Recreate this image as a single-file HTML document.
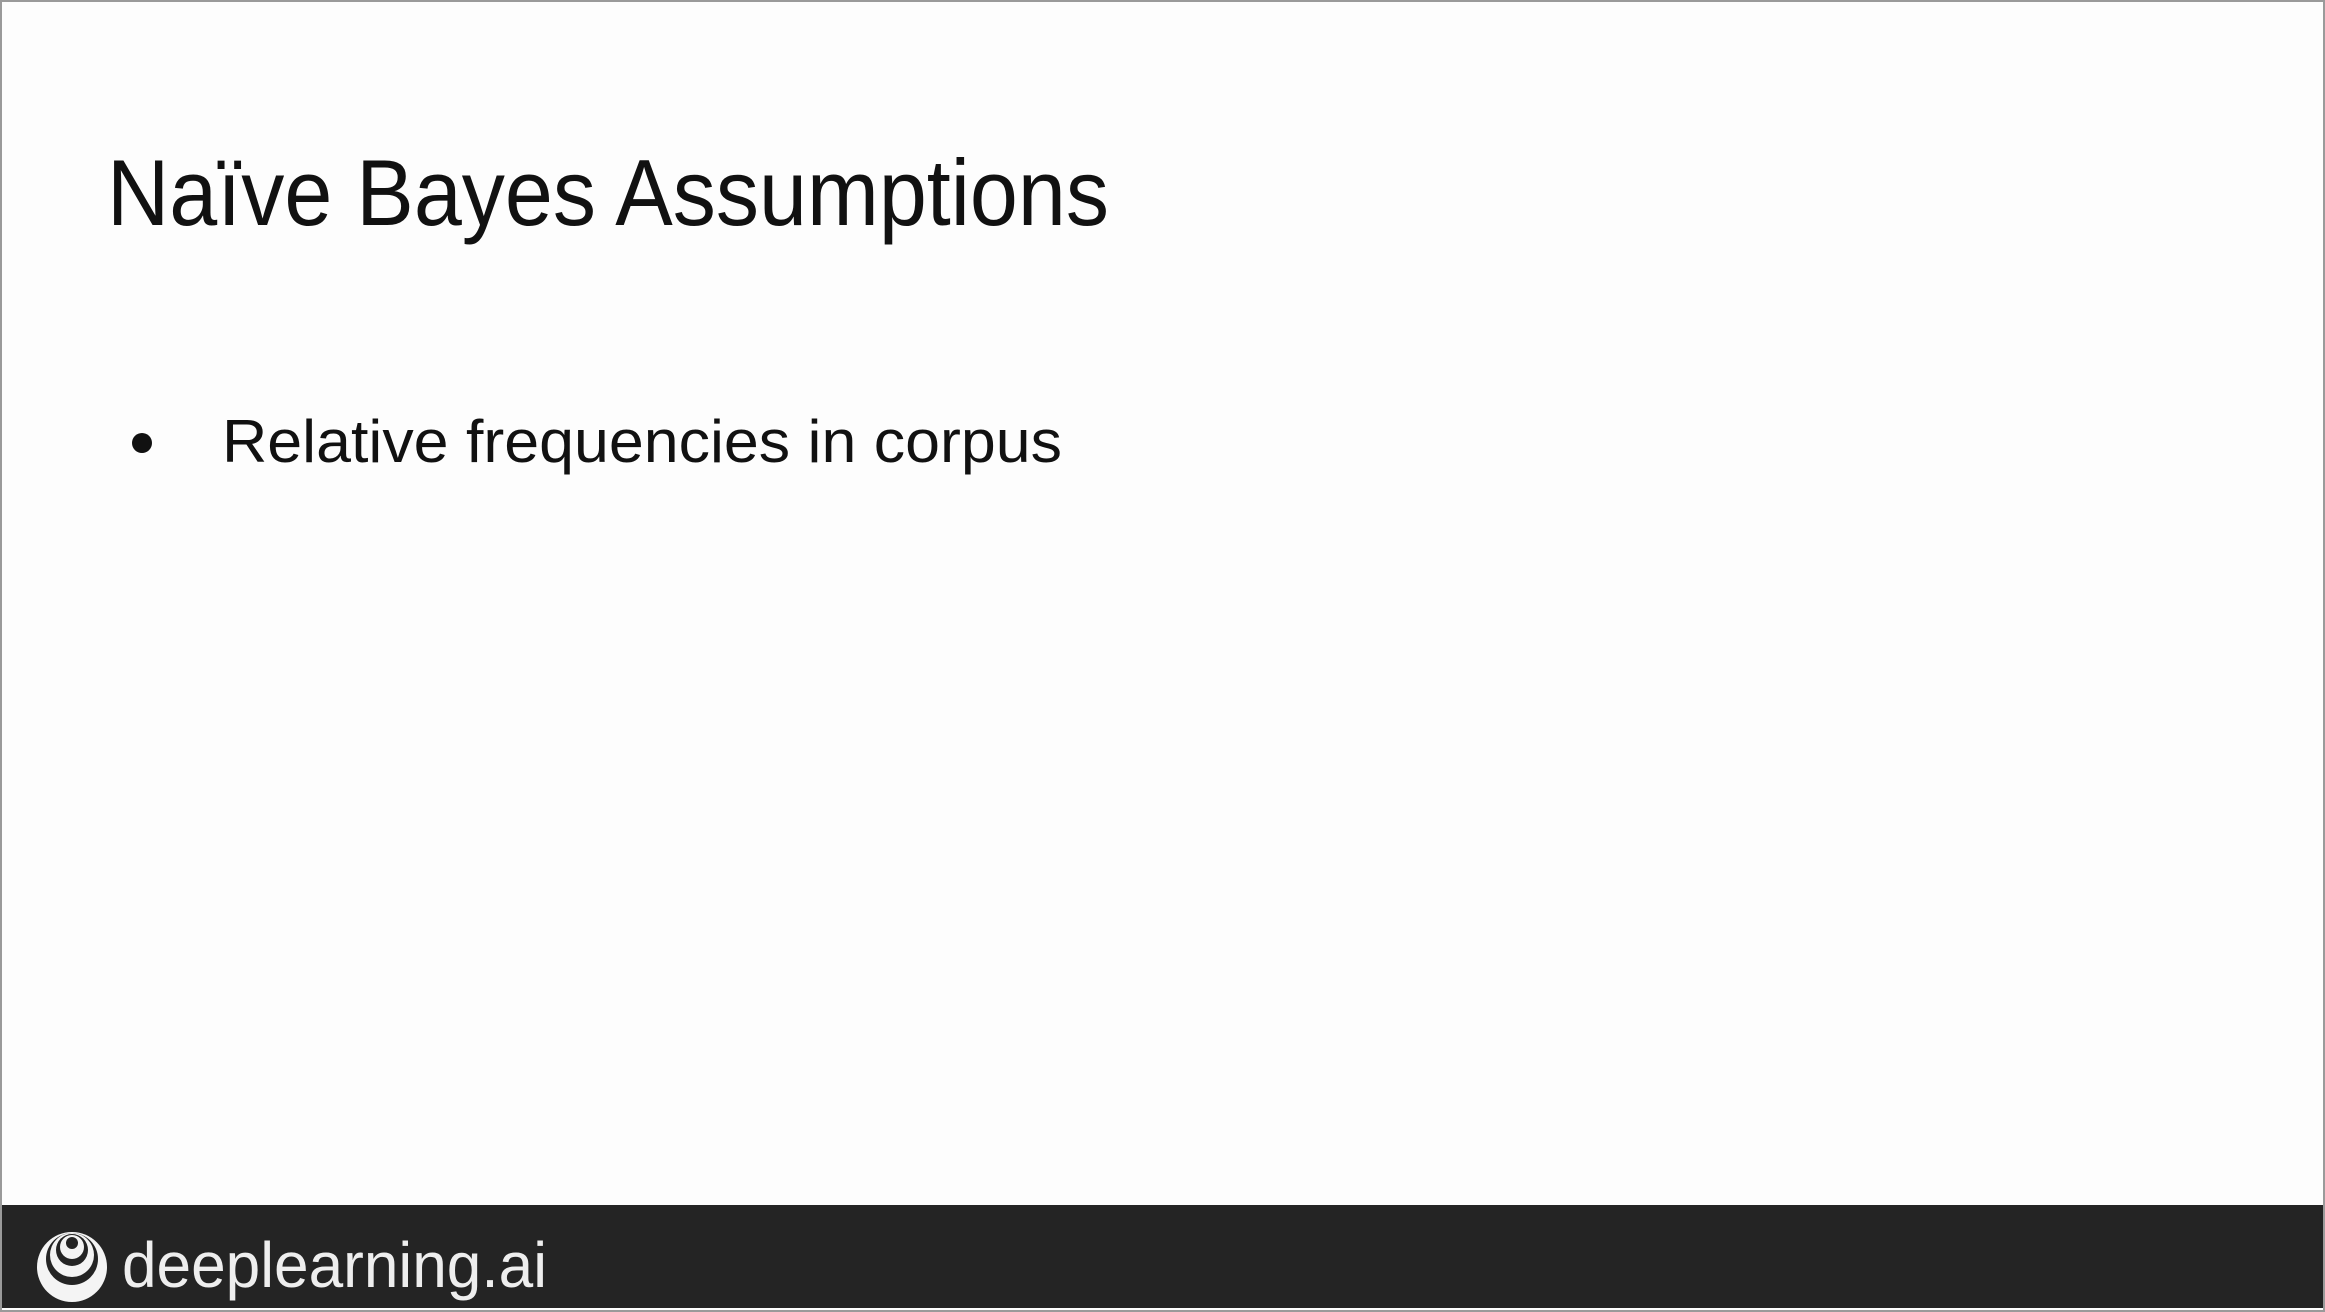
<!DOCTYPE html>
<html><head><style>
html,body{margin:0;padding:0;background:#fff}
svg{display:block}
</style></head><body>
<svg width="2325" height="1312" xmlns="http://www.w3.org/2000/svg">
<rect x="0" y="0" width="2325" height="1312" fill="#fdfdfd"/>
<rect x="1" y="1" width="2323" height="1310" fill="none" stroke="#9a9a9a" stroke-width="2"/>
<text x="107" y="225" font-family="Liberation Sans, sans-serif" font-size="94" fill="#111" textLength="1002" lengthAdjust="spacingAndGlyphs">Naïve Bayes Assumptions</text>
<circle cx="142" cy="443" r="10" fill="#111"/>
<text x="222" y="462" font-family="Liberation Sans, sans-serif" font-size="60" fill="#111" textLength="840" lengthAdjust="spacingAndGlyphs">Relative frequencies in corpus</text>
<rect x="2" y="1205" width="2321" height="103" fill="#242424"/>
<g>
<circle cx="72" cy="1267" r="35" fill="#f4f4f4"/>
<circle cx="72" cy="1259" r="26" fill="#242424"/>
<circle cx="72" cy="1255" r="22" fill="#f4f4f4"/>
<circle cx="72" cy="1250" r="16" fill="#242424"/>
<circle cx="72" cy="1247" r="12" fill="#f4f4f4"/>
<circle cx="72" cy="1243" r="6" fill="#242424"/>
</g>
<text x="122" y="1287" font-family="Liberation Sans, sans-serif" font-size="64" fill="#eee" textLength="425" lengthAdjust="spacingAndGlyphs">deeplearning.ai</text>
</svg>
</body></html>
